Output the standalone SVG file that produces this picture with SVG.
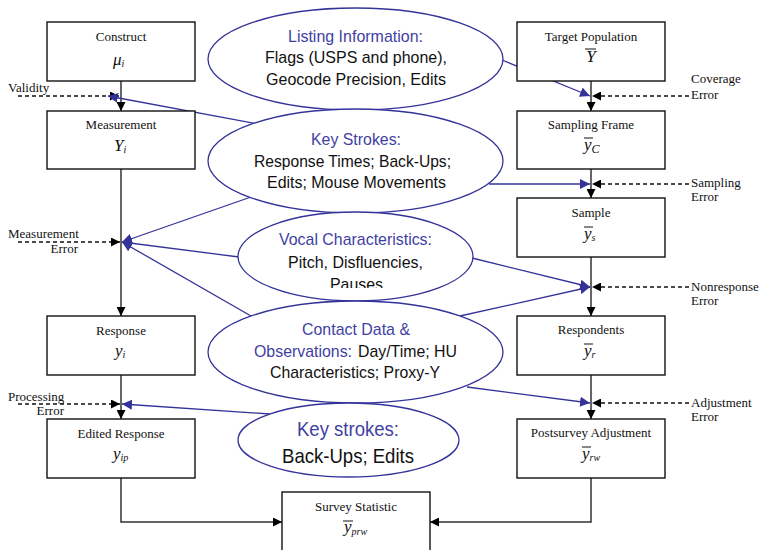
<svg xmlns="http://www.w3.org/2000/svg" width="760" height="550" viewBox="0 0 760 550">
<style>
.box{fill:#fff;stroke:#111;stroke-width:1.4}
.lbl{font-family:"Liberation Serif","Times New Roman",serif;font-size:13px;fill:#111}
.mid{text-anchor:middle}
.end{text-anchor:end}
.math{font-family:"Liberation Serif","Times New Roman",serif;font-style:italic;font-size:17px;fill:#111}
.sub{font-family:"Liberation Serif","Times New Roman",serif;font-style:italic;font-size:10px;fill:#111}
.bar{stroke:#111;stroke-width:1}
.ell{fill:#fff;stroke:#333399;stroke-width:1.3}
.et{font-family:"Liberation Sans",Arial,sans-serif;font-size:17px;fill:#111;text-anchor:middle}
.eb{font-family:"Liberation Sans",Arial,sans-serif;font-size:21px;fill:#111;text-anchor:middle}
.blue{fill:#3f3fa3}
.flow{fill:none;stroke:#333;stroke-width:1.5}
.dash{fill:none;stroke:#111;stroke-width:1.3;stroke-dasharray:4 3}
.bl{fill:none;stroke:#333399;stroke-width:1.3}
</style>
<defs>
<marker id="ak" viewBox="0 0 10 10" refX="10" refY="5" markerWidth="9" markerHeight="9" markerUnits="userSpaceOnUse" orient="auto"><path d="M0,0 L10,5 L0,10 z" fill="#000"/></marker>
<marker id="ab" viewBox="0 0 10 10" refX="10" refY="5" markerWidth="10" markerHeight="10" markerUnits="userSpaceOnUse" orient="auto"><path d="M0,0 L10,5 L0,10 z" fill="#333399"/></marker>
<clipPath id="pclip"><rect x="300" y="270" width="120" height="18"/></clipPath>
</defs>

<g id="connectors">
<path class="flow" d="M121,81 V111" marker-end="url(#ak)"/>
<path class="flow" d="M121,169 V316" marker-end="url(#ak)"/>
<path class="flow" d="M121,375 V419" marker-end="url(#ak)"/>
<path class="flow" d="M121,478 V522 H282" marker-end="url(#ak)"/>
<path class="flow" d="M591,81 V111" marker-end="url(#ak)"/>
<path class="flow" d="M591,169 V198" marker-end="url(#ak)"/>
<path class="flow" d="M591,257 V316" marker-end="url(#ak)"/>
<path class="flow" d="M591,375 V419" marker-end="url(#ak)"/>
<path class="flow" d="M591,478 V522 H430" marker-end="url(#ak)"/>
<path class="dash" d="M18,96 H119" marker-end="url(#ak)"/>
<path class="dash" d="M18,242 H120" marker-end="url(#ak)"/>
<path class="dash" d="M18,404 H120" marker-end="url(#ak)"/>
<path class="dash" d="M689,96 H592" marker-end="url(#ak)"/>
<path class="dash" d="M689,184 H592" marker-end="url(#ak)"/>
<path class="dash" d="M689,287 H592" marker-end="url(#ak)"/>
<path class="dash" d="M689,403 H592" marker-end="url(#ak)"/>
<path class="bl" d="M258,124 L108,96" marker-end="url(#ab)"/>
<path class="bl" d="M251,197 L122,242" marker-end="url(#ab)"/>
<path class="bl" d="M239,257 L122,242" marker-end="url(#ab)"/>
<path class="bl" d="M251,316 L122,242" marker-end="url(#ab)"/>
<path class="bl" d="M270,414 L122,404" marker-end="url(#ab)"/>
<path class="bl" d="M502,60 L590,96" marker-end="url(#ab)"/>
<path class="bl" d="M489,184 L590,184" marker-end="url(#ab)"/>
<path class="bl" d="M472,258 L590,287" marker-end="url(#ab)"/>
<path class="bl" d="M460,316 L590,287" marker-end="url(#ab)"/>
<path class="bl" d="M467,387 L590,403" marker-end="url(#ab)"/>
</g>

<g id="side-labels">
<text class="lbl" x="8" y="92">Validity</text>
<text class="lbl" x="8" y="238">Measurement</text>
<text class="lbl end" x="78" y="253">Error</text>
<text class="lbl" x="8" y="401">Processing</text>
<text class="lbl end" x="64" y="415">Error</text>
<text class="lbl" x="691" y="83">Coverage</text>
<text class="lbl" x="691" y="99">Error</text>
<text class="lbl" x="691" y="187">Sampling</text>
<text class="lbl" x="691" y="201">Error</text>
<text class="lbl" x="691" y="291">Nonresponse</text>
<text class="lbl" x="691" y="305">Error</text>
<text class="lbl" x="691" y="407">Adjustment</text>
<text class="lbl" x="691" y="421">Error</text>
</g>

<g id="construct">
<rect class="box" x="47" y="22" width="148" height="59"/>
<text class="lbl mid" x="121" y="41">Construct</text>
<text class="math" x="113" y="65">μ<tspan class="sub" dy="2">i</tspan></text>
</g>
<g id="measurement">
<rect class="box" x="47" y="111" width="148" height="58"/>
<text class="lbl mid" x="121" y="129">Measurement</text>
<text class="math" x="114" y="151">Y<tspan class="sub" dy="2">i</tspan></text>
</g>
<g id="response">
<rect class="box" x="47" y="316" width="148" height="59"/>
<text class="lbl mid" x="121" y="335">Response</text>
<text class="math" x="115" y="356">y<tspan class="sub" dy="2">i</tspan></text>
</g>
<g id="edited-response">
<rect class="box" x="47" y="419" width="148" height="59"/>
<text class="lbl mid" x="121" y="438">Edited Response</text>
<text class="math" x="113" y="459">y<tspan class="sub" dy="2">ip</tspan></text>
</g>

<g id="target-population">
<rect class="box" x="517" y="22" width="148" height="59"/>
<text class="lbl mid" x="591" y="41">Target Population</text>
<text class="math mid" x="591" y="62">Y</text>
<line class="bar" x1="585" y1="49" x2="596" y2="49"/>
</g>
<g id="sampling-frame">
<rect class="box" x="517" y="111" width="148" height="58"/>
<text class="lbl mid" x="591" y="129">Sampling Frame</text>
<text class="math" x="584" y="150">y<tspan class="sub" style="font-size:12px" dy="3">C</tspan></text>
<line class="bar" x1="584" y1="138" x2="593" y2="138"/>
</g>
<g id="sample">
<rect class="box" x="517" y="198" width="148" height="59"/>
<text class="lbl mid" x="591" y="217">Sample</text>
<text class="math" x="584" y="239">y<tspan class="sub" dy="2">s</tspan></text>
<line class="bar" x1="584" y1="227" x2="593" y2="227"/>
</g>
<g id="respondents">
<rect class="box" x="517" y="316" width="148" height="59"/>
<text class="lbl mid" x="591" y="334">Respondents</text>
<text class="math" x="584" y="356">y<tspan class="sub" dy="2">r</tspan></text>
<line class="bar" x1="584" y1="344" x2="593" y2="344"/>
</g>
<g id="postsurvey-adjustment">
<rect class="box" x="517" y="419" width="148" height="59"/>
<text class="lbl mid" x="591" y="437">Postsurvey Adjustment</text>
<text class="math" x="582" y="459">y<tspan class="sub" dy="2">rw</tspan></text>
<line class="bar" x1="582" y1="447" x2="591" y2="447"/>
</g>
<g id="survey-statistic">
<rect class="box" x="282" y="492" width="148" height="62"/>
<text class="lbl mid" x="356" y="511">Survey Statistic</text>
<text class="math" x="344" y="532">y<tspan class="sub" dy="3">prw</tspan></text>
<line class="bar" x1="343" y1="521" x2="353" y2="521"/>
</g>

<g id="listing-information">
<ellipse class="ell" cx="355.5" cy="59" rx="147.5" ry="51"/>
<text class="et blue" x="355.5" y="42" textLength="135" lengthAdjust="spacingAndGlyphs">Listing Information:</text>
<text class="et" x="356" y="63" textLength="182" lengthAdjust="spacingAndGlyphs">Flags (USPS and phone),</text>
<text class="et" x="356" y="85" textLength="180" lengthAdjust="spacingAndGlyphs">Geocode Precision, Edits</text>
</g>
<g id="key-strokes">
<ellipse class="ell" cx="355.5" cy="161" rx="147.5" ry="52"/>
<text class="et blue" x="356" y="145" textLength="90" lengthAdjust="spacingAndGlyphs">Key Strokes:</text>
<text class="et" x="352.5" y="167" textLength="197" lengthAdjust="spacingAndGlyphs">Response Times; Back-Ups;</text>
<text class="et" x="356.5" y="188" textLength="179" lengthAdjust="spacingAndGlyphs">Edits; Mouse Movements</text>
</g>
<g id="vocal-characteristics">
<ellipse class="ell" cx="355.5" cy="256.5" rx="117.5" ry="44.5"/>
<text class="et blue" x="355.5" y="245" textLength="153" lengthAdjust="spacingAndGlyphs">Vocal Characteristics:</text>
<text class="et" x="355.5" y="268" textLength="135" lengthAdjust="spacingAndGlyphs">Pitch, Disfluencies,</text>
<text class="et" x="356.5" y="290" textLength="53" lengthAdjust="spacingAndGlyphs" clip-path="url(#pclip)">Pauses</text>
</g>
<g id="contact-data">
<ellipse class="ell" cx="355.5" cy="352" rx="147.5" ry="51"/>
<text class="et blue" x="356" y="335" textLength="108" lengthAdjust="spacingAndGlyphs">Contact Data &amp;</text>
<text class="et" style="text-anchor:start" y="357"><tspan class="blue" x="254" textLength="98" lengthAdjust="spacingAndGlyphs">Observations:</tspan><tspan x="358" textLength="99" lengthAdjust="spacingAndGlyphs">Day/Time; HU</tspan></text>
<text class="et" x="355" y="378" textLength="170" lengthAdjust="spacingAndGlyphs">Characteristics; Proxy-Y</text>
</g>
<g id="key-strokes-2">
<ellipse class="ell" cx="348.5" cy="440" rx="110.5" ry="37"/>
<text class="eb blue" x="348" y="436" textLength="102" lengthAdjust="spacingAndGlyphs">Key strokes:</text>
<text class="eb" x="348" y="463" textLength="132" lengthAdjust="spacingAndGlyphs">Back-Ups; Edits</text>
</g>
</svg>
